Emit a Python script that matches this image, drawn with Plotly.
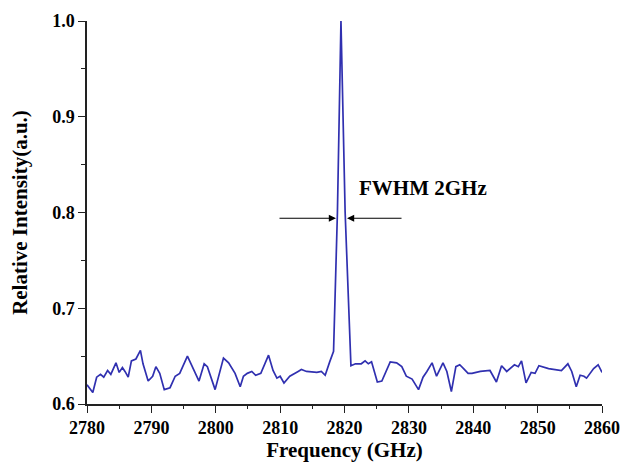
import plotly.graph_objects as go

# Spectrum data
freq = [2780.0, 2780.9, 2781.5, 2782.1, 2782.6, 2783.2, 2783.7, 2784.5, 2785.0, 2785.5,
        2785.9, 2786.4, 2786.9, 2787.6, 2788.3, 2788.7, 2789.5, 2790.2, 2790.7, 2791.3,
        2792.0, 2792.9, 2793.7, 2794.4, 2795.6, 2796.5, 2797.4, 2798.2, 2798.7, 2799.9,
        2801.2, 2802.0, 2803.0, 2803.8, 2804.3, 2804.9, 2805.6, 2806.2, 2807.0, 2808.2,
        2808.9, 2809.5, 2810.0, 2810.6, 2811.5, 2812.8, 2813.3, 2814.1, 2815.7, 2816.4,
        2817.0, 2817.7, 2818.3, 2818.9, 2819.45, 2820.1, 2821.0, 2821.7, 2822.6, 2823.2,
        2823.7, 2824.2, 2825.1, 2825.8, 2827.1, 2828.1, 2828.9, 2829.6, 2830.5, 2831.5,
        2832.2, 2832.8, 2833.6, 2834.3, 2835.3, 2835.9, 2836.6, 2837.3, 2837.9, 2838.5,
        2839.2, 2839.8, 2841.1, 2842.6, 2843.6, 2844.4, 2845.2, 2846.4, 2847.0, 2847.5,
        2848.2, 2849.0, 2849.6, 2850.2, 2851.7, 2853.7, 2854.7, 2855.3, 2856.0, 2856.6,
        2857.2, 2857.6, 2858.7, 2859.4, 2860.0]

intensity = [0.620, 0.612, 0.628, 0.631, 0.628, 0.635, 0.631, 0.643, 0.633, 0.638,
             0.634, 0.628, 0.645, 0.647, 0.656, 0.642, 0.624, 0.629, 0.639, 0.632,
             0.615, 0.617, 0.629, 0.632, 0.650, 0.636, 0.624, 0.642, 0.639, 0.615,
             0.648, 0.643, 0.632, 0.618, 0.629, 0.632, 0.634, 0.630, 0.632, 0.651,
             0.635, 0.627, 0.629, 0.622, 0.629, 0.634, 0.636, 0.634, 0.633, 0.634,
             0.630, 0.644, 0.655, 0.800, 1.000, 0.800, 0.640, 0.642, 0.642, 0.645,
             0.642, 0.644, 0.623, 0.624, 0.644, 0.643, 0.639, 0.629, 0.626, 0.615,
             0.628, 0.634, 0.643, 0.629, 0.643, 0.634, 0.613, 0.639, 0.641, 0.637,
             0.632, 0.632, 0.634, 0.635, 0.623, 0.640, 0.634, 0.641, 0.639, 0.645,
             0.622, 0.633, 0.632, 0.640, 0.637, 0.635, 0.642, 0.634, 0.618, 0.630,
             0.629, 0.627, 0.637, 0.641, 0.633]

x_ticks = [2780, 2790, 2800, 2810, 2820, 2830, 2840, 2850, 2860]
y_ticks = [0.6, 0.7, 0.8, 0.9, 1.0]

# FWHM markers
fwhm_left = (2818.68, 2809.67)   # (tip, tail)
fwhm_right = (2820.39, 2829.09)
fwhm_level = 0.794
fwhm_label = "FWHM 2GHz"
fwhm_label_pos = (2821.9, 0.826)

SERIF = "Liberation Serif, Times New Roman, serif"

fig = go.Figure()
fig.add_trace(go.Scatter(
    x=freq, y=intensity, mode="lines",
    line=dict(color="#3030b0", width=1.7),
    showlegend=False, hoverinfo="skip",
))

annotations = [
    dict(x=fwhm_left[0], y=fwhm_level, ax=fwhm_left[1], ay=fwhm_level,
         xref="x", yref="y", axref="x", ayref="y", showarrow=True,
         arrowhead=2, arrowsize=1.2, arrowwidth=1.2, arrowcolor="black", text=""),
    dict(x=fwhm_right[0], y=fwhm_level, ax=fwhm_right[1], ay=fwhm_level,
         xref="x", yref="y", axref="x", ayref="y", showarrow=True,
         arrowhead=2, arrowsize=1.2, arrowwidth=1.2, arrowcolor="black", text=""),
    dict(x=fwhm_label_pos[0], y=fwhm_label_pos[1], xref="x", yref="y",
         text=fwhm_label, showarrow=False, xanchor="left", yanchor="middle",
         font=dict(family=SERIF, size=21, color="black", weight="bold")),
]

fig.update_layout(
    width=622, height=467,
    margin=dict(l=87, r=20, t=21, b=63),
    paper_bgcolor="white", plot_bgcolor="white",
    annotations=annotations,
    xaxis=dict(
        range=[2780, 2860], tickvals=x_ticks, ticks="outside", ticklen=7, tickwidth=1.3,
        tickcolor="#222", showline=True, linecolor="#222", linewidth=1.5,
        showgrid=False, zeroline=False,
        minor=dict(dtick=5, ticks="outside", ticklen=3, tickwidth=1.2, tickcolor="#222"),
        tickfont=dict(family=SERIF, size=18, color="black", weight="bold"),
        title=dict(text="Frequency (GHz)", standoff=2,
                   font=dict(family=SERIF, size=21, color="black", weight="bold")),
        automargin=False,
    ),
    yaxis=dict(
        range=[0.6, 1.0], tickvals=y_ticks, tickformat=".1f", ticks="outside", ticklen=7,
        tickwidth=1.3, tickcolor="#222", showline=True, linecolor="#222", linewidth=1.5,
        showgrid=False, zeroline=False,
        minor=dict(dtick=0.05, ticks="outside", ticklen=4, tickwidth=1.2, tickcolor="#222"),
        tickfont=dict(family=SERIF, size=18, color="black", weight="bold"),
        title=dict(text="Relative Intensity(a.u.)", standoff=19,
                   font=dict(family=SERIF, size=21, color="black", weight="bold")),
        automargin=False,
    ),
)

fig.write_html(
    "out.html",
    config={"displayModeBar": False},
    post_script="document.body.style.margin='0';document.body.style.overflow='hidden';",
)
